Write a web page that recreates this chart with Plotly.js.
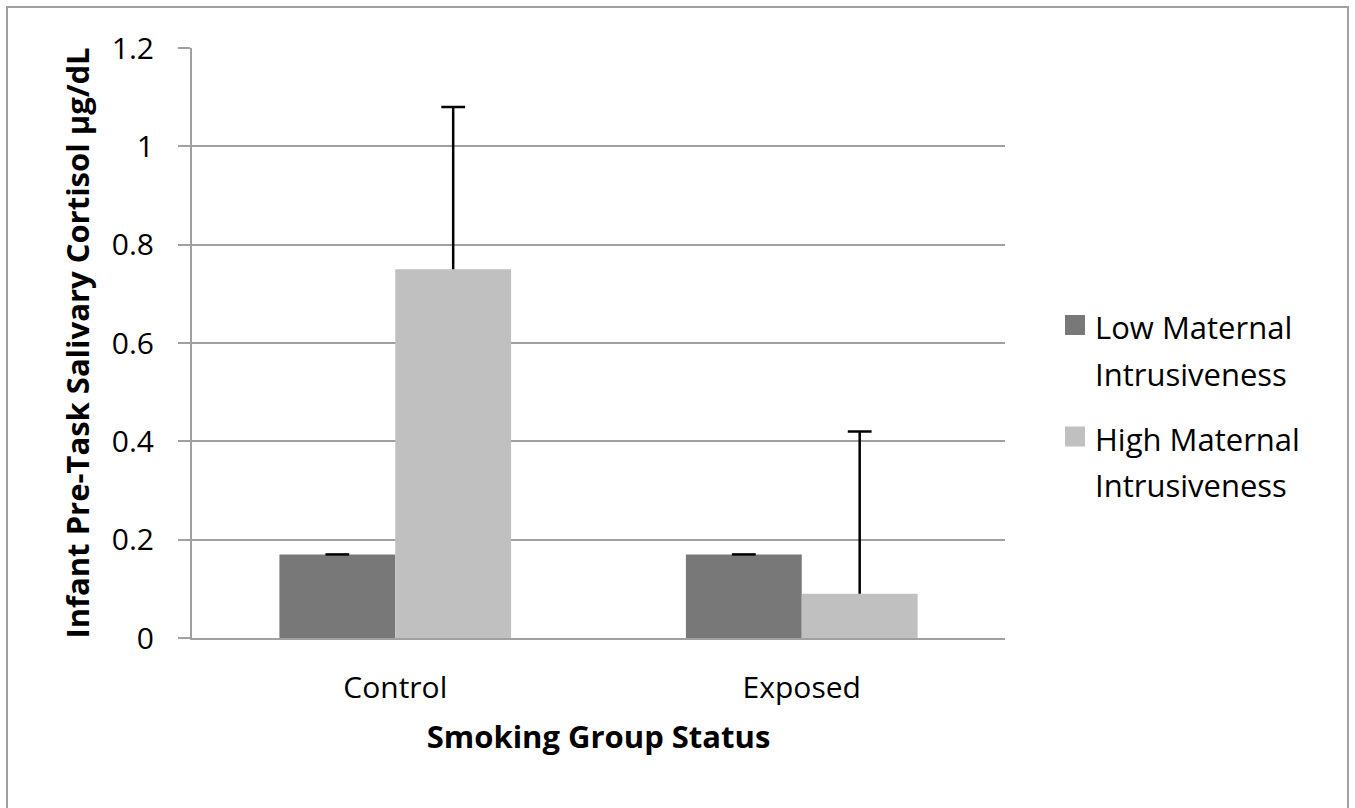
<!DOCTYPE html>
<html>
<head>
<meta charset="utf-8">
<script src="https://cdn.plot.ly/plotly-3.0.1.min.js"></script>
<style>
html,body{margin:0;padding:0;background:#fff;}
#chart{width:1355px;height:808px;}
</style>
</head>
<body>
<div id="chart"></div>
<script>
var categories = ["Control", "Exposed"];
var seriesNames = ["Low Maternal Intrusiveness", "High Maternal Intrusiveness"];
var seriesLegendLines = [["Low Maternal", "Intrusiveness"], ["High Maternal", "Intrusiveness"]];
var lowValues = [0.17, 0.17];
var highValues = [0.75, 0.09];
var lowErrors = [0, 0];
var highErrors = [0.33, 0.33];
var yTickValues = [0, 0.2, 0.4, 0.6, 0.8, 1, 1.2];
var yTickLabels = ["0", "0.2", "0.4", "0.6", "0.8", "1", "1.2"];
var seriesColors = ["#787878", "#c0c0c0"];
var xTitle = "Smoking Group Status";
var yTitle = "Infant Pre-Task Salivary Cortisol µg/dL";

var FONT = "'Open Sans', 'Liberation Sans', sans-serif";

var W = 1355, H = 808;
var mL = 192, mR = 350, mT = 48, mB = 170;
var pw = W - mL - mR, ph = H - mT - mB;
function px2x(p){ return (p - mL) / pw; }
function py2y(p){ return (H - mB - p) / ph; }

function addArr(a, b){ return a.map(function(v, i){ return v + b[i]; }); }
function legendText(lines){
  return lines.map(function(t){ return '<span style="font-size:31px">' + t + '</span>'; }).join('<br>');
}

var groups = ["low", "high"];
var values = [lowValues, highValues];
var errors = [lowErrors, highErrors];
var traces = [];

// bars
for (var i = 0; i < 2; i++) {
  traces.push({
    type: "bar", name: seriesNames[i], x: categories, y: values[i],
    offsetgroup: groups[i], showlegend: false,
    marker: {color: seriesColors[i], line: {width: 0}},
    hoverinfo: "skip"
  });
}
// error bars (upper only, cap at the top)
for (var j = 0; j < 2; j++) {
  traces.push({
    type: "scatter", mode: "markers", name: seriesNames[j] + " error",
    x: categories, y: addArr(values[j], errors[j]),
    offsetgroup: groups[j], showlegend: false, cliponaxis: false,
    marker: {symbol: "line-ew", size: 17, color: "#000", line: {color: "#000", width: 2.5}},
    error_y: {type: "data", symmetric: false, array: [0, 0], arrayminus: errors[j],
              color: "#000", thickness: 2.5, width: 0}
  });
}
// legend entries
for (var k = 0; k < 2; k++) {
  traces.push({
    type: "scatter", mode: "markers", name: legendText(seriesLegendLines[k]),
    x: [null], y: [null], offsetgroup: groups[k], legendgroup: groups[k], showlegend: true,
    marker: {symbol: "square", size: 16, color: seriesColors[k], line: {color: seriesColors[k], width: 4}}
  });
}

var layout = {
  width: W, height: H,
  margin: {l: mL, r: mR, t: mT, b: mB, pad: 0},
  paper_bgcolor: "#fff", plot_bgcolor: "#fff",
  font: {family: FONT, size: 30, color: "#000"},
  barmode: "group", bargap: 0.43, bargroupgap: 0,
  scattermode: "group", scattergap: 0.43,
  showlegend: true,
  legend: {
    x: px2x(1055), xanchor: "left",
    y: py2y(295), yanchor: "top",
    font: {family: FONT, size: 36, color: "#000"},
    tracegroupgap: 15, valign: "top", itemsizing: "trace",
    bgcolor: "rgba(0,0,0,0)"
  },
  xaxis: {
    type: "category",
    showline: true, linecolor: "#a0a0a0", linewidth: 2,
    ticks: "", showgrid: false, zeroline: false,
    tickfont: {family: FONT, size: 30, color: "#000"},
    ticklabelstandoff: 22,
    title: {text: xTitle, font: {family: FONT, size: 31, color: "#000", weight: "bold"}, standoff: 20}
  },
  yaxis: {
    range: [0, 1.2],
    tickvals: yTickValues, ticktext: yTickLabels,
    showline: true, linecolor: "#a0a0a0", linewidth: 2,
    ticks: "outside", ticklen: 12, tickwidth: 2, tickcolor: "#a0a0a0",
    showgrid: true, gridcolor: "#a0a0a0", gridwidth: 2,
    zeroline: false,
    tickfont: {family: FONT, size: 30, color: "#000"},
    ticklabelstandoff: 18,
    title: {text: yTitle, font: {family: FONT, size: 31, color: "#000", weight: "bold"}, standoff: 13}
  },
  shapes: [
    {type: "rect", xref: "paper", yref: "paper",
     x0: px2x(7), x1: px2x(1348), y0: py2y(830), y1: py2y(7),
     line: {color: "#a0a0a0", width: 2}, fillcolor: "rgba(0,0,0,0)", layer: "below"}
  ]
};

Plotly.newPlot("chart", traces, layout, {displayModeBar: false, staticPlot: true});
</script>
</body>
</html>
